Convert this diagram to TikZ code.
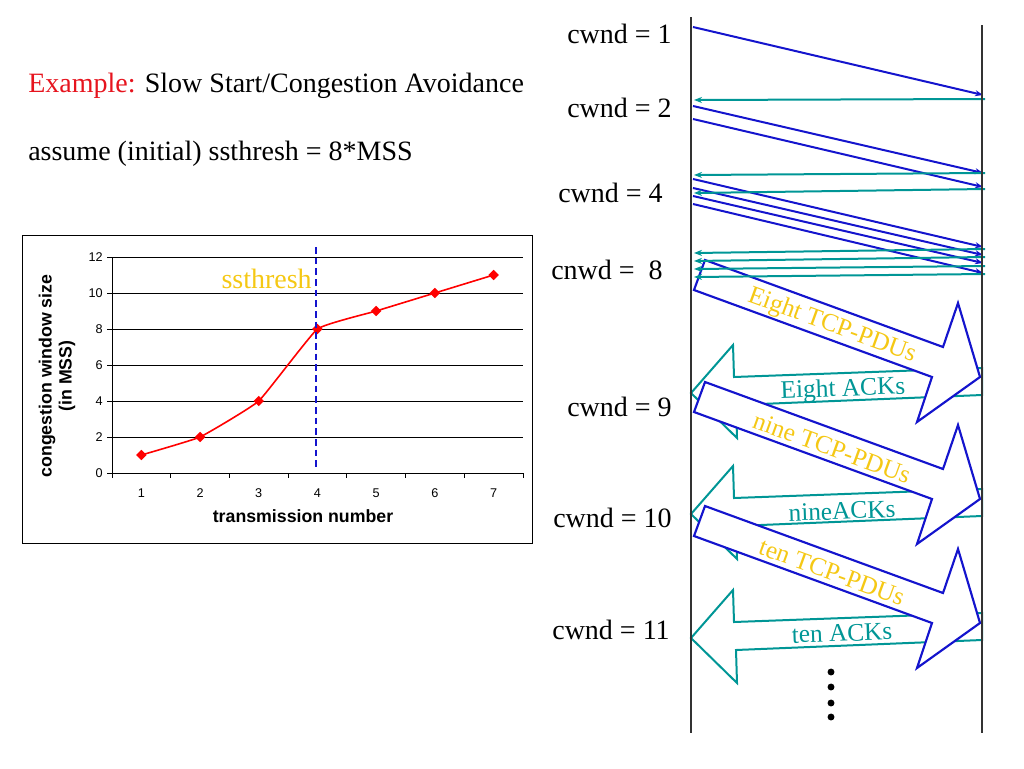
\documentclass[tikz,border=0pt]{standalone}
\usepackage{fontspec}
\setmainfont{Liberation Serif}
\newfontfamily\chartfont{Liberation Sans}
\usetikzlibrary{shapes.geometric}
\usetikzlibrary{arrows.meta}
\usetikzlibrary{positioning}

\definecolor{pdublue}{RGB}{20,20,205}
\definecolor{ackteal}{RGB}{0,150,150}
\definecolor{gold}{RGB}{245,200,20}
\definecolor{exred}{RGB}{230,20,30}

\begin{document}
\begin{tikzpicture}[x=0.75pt, y=-0.75pt, every node/.style={inner sep=0pt},
  big/.style={font=\fontsize{21}{25}\selectfont},
  lbl/.style={big, anchor=base east},
  seg/.style={pdublue, line width=1.5pt, -{Stealth[length=6pt,width=4.5pt]}},
  ack/.style={ackteal, line width=1.5pt, -{Stealth[length=6pt,width=4.5pt]}},
  pdu/.style={pdublue, line width=1.6pt, fill=white, line join=miter},
  acks/.style={ackteal, line width=1.5pt, fill=white, line join=miter},
  pdutxt/.style={text=gold, font=\fontsize{19}{22}\selectfont, rotate=-20},
  acktxt/.style={text=ackteal, font=\fontsize{19}{22}\selectfont, rotate=2},
  tick/.style={font=\chartfont\fontsize{9.5}{11}\selectfont},
  axtitle/.style={font=\chartfont\bfseries\fontsize{13.3}{15}\selectfont},
  mk/.style={diamond, fill=red, minimum size=8pt}]
\useasboundingbox (0,0) rectangle (1024,768);

% headline
\node[big, anchor=base west] (title) at (28,92) {\textcolor{exred}{Example:} Slow Start/Congestion Avoidance};
\node[big, anchor=base west] (assume) at (28,160) {assume (initial) ssthresh = 8*MSS};

% chart
\draw[line width=0.75pt] (22,235) rectangle (532,543);
\foreach \v in {2,4,...,12}
  \draw[line width=0.6pt] (112,473-18*\v) -- (523,473-18*\v);
\foreach \v in {0,2,...,12} {
  \draw[line width=0.6pt] (107,473-18*\v) -- (112,473-18*\v);
  \node[tick, anchor=east] (yl\v) at (103,473-18*\v) {\v};
}
\foreach \k in {0,...,7}
  \draw[line width=0.6pt] (112+58.7*\k,473) -- (112+58.7*\k,478);
\foreach \i in {1,...,7}
  \node[tick] (xl\i) at (112+58.7*\i-29.35,493) {\i};
\draw[line width=0.75pt] (112,257) -- (112,473) -- (523,473);
\node[axtitle] (xt) at (303,516) {transmission number};
\node[axtitle, rotate=90, align=center] (yt) at (57,376) {congestion window size\\(in MSS)};

\foreach \i/\v in {1/1,2/2,3/4,4/8,5/9,6/10,7/11}
  \coordinate (p\i) at (112+58.7*\i-29.35,473-18*\v);
\draw[red, line width=1.2pt] plot[smooth, tension=0.2] coordinates {(p1) (p2) (p3) (p4) (p5) (p6) (p7)};
\foreach \i in {1,...,7}
  \node[mk] (m\i) at (p\i) {};
\draw[pdublue, line width=1pt, dash pattern=on 5pt off 3pt] (316,247) -- (316,469);
\node[big, anchor=base east, text=gold] (thr) at (312,288) {ssthresh};

% big arrows
\foreach \dy in {0,121,245}
  \draw[acks, shift={(0,\dy)}] (691,393) -- (733,345) -- (734,377) -- (982,368)
    -- (982,395) -- (736,405) -- (737,438) -- cycle;
\foreach \dy in {0,122,246}
  \draw[pdu, shift={(0,\dy)}] (705,260) -- (943,347) -- (958,303) -- (980,377)
    -- (917,422) -- (932,377) -- (694,290) -- cycle;

\node[pdutxt] (pdu1) at (832,326) {Eight TCP-PDUs};
\node[pdutxt] (pdu2) at (832,448) {nine TCP-PDUs};
\node[pdutxt] (pdu3) at (832,572) {ten TCP-PDUs};
\node[acktxt] (ack1) at (843,390) {Eight ACKs};
\node[acktxt] (ack2) at (842,511) {nineACKs};
\node[acktxt] (ack3) at (842,633) {ten ACKs};

% segments and acks
\foreach \n/\a/\b in {1/27/95,2/106/173,3/119/187,4/179/247,5/188/255,6/196/263,7/204/273} {
  \coordinate (s\n) at (693,\a);
  \coordinate (r\n) at (983,\b);
  \draw[seg] (s\n) -- (r\n);
}
\foreach \n/\a/\b in {1/99/100,2/173/175,3/189/193,4/249/253,5/257/261,6/266/269,7/274/277} {
  \coordinate (ra\n) at (985,\a);
  \coordinate (sa\n) at (694,\b);
  \draw[ack] (ra\n) -- (sa\n);
}

% time lines
\coordinate (sndtop) at (691,17);
\coordinate (sndbot) at (691,733);
\coordinate (rcvtop) at (982,25);
\coordinate (rcvbot) at (982,733);
\draw[line width=0.8pt, black!80] (sndtop) -- (sndbot);
\draw[line width=0.8pt, black!80] (rcvtop) -- (rcvbot);

\node[lbl] (c1) at (672,43) {cwnd = 1};
\node[lbl] (c2) at (672,117) {cwnd = 2};
\node[lbl] (c4) at (663,202) {cwnd = 4};
\node[lbl] (c8) at (663,279) {cnwd = \ 8};
\node[lbl] (c9) at (672,416) {cwnd = 9};
\node[lbl] (c10) at (672,527) {cwnd = 10};
\node[lbl] (c11) at (670,639) {cwnd = 11};

\foreach \y in {672,687,703,717}
  \fill (831,\y) circle (2.6pt);
\end{tikzpicture}
\end{document}
